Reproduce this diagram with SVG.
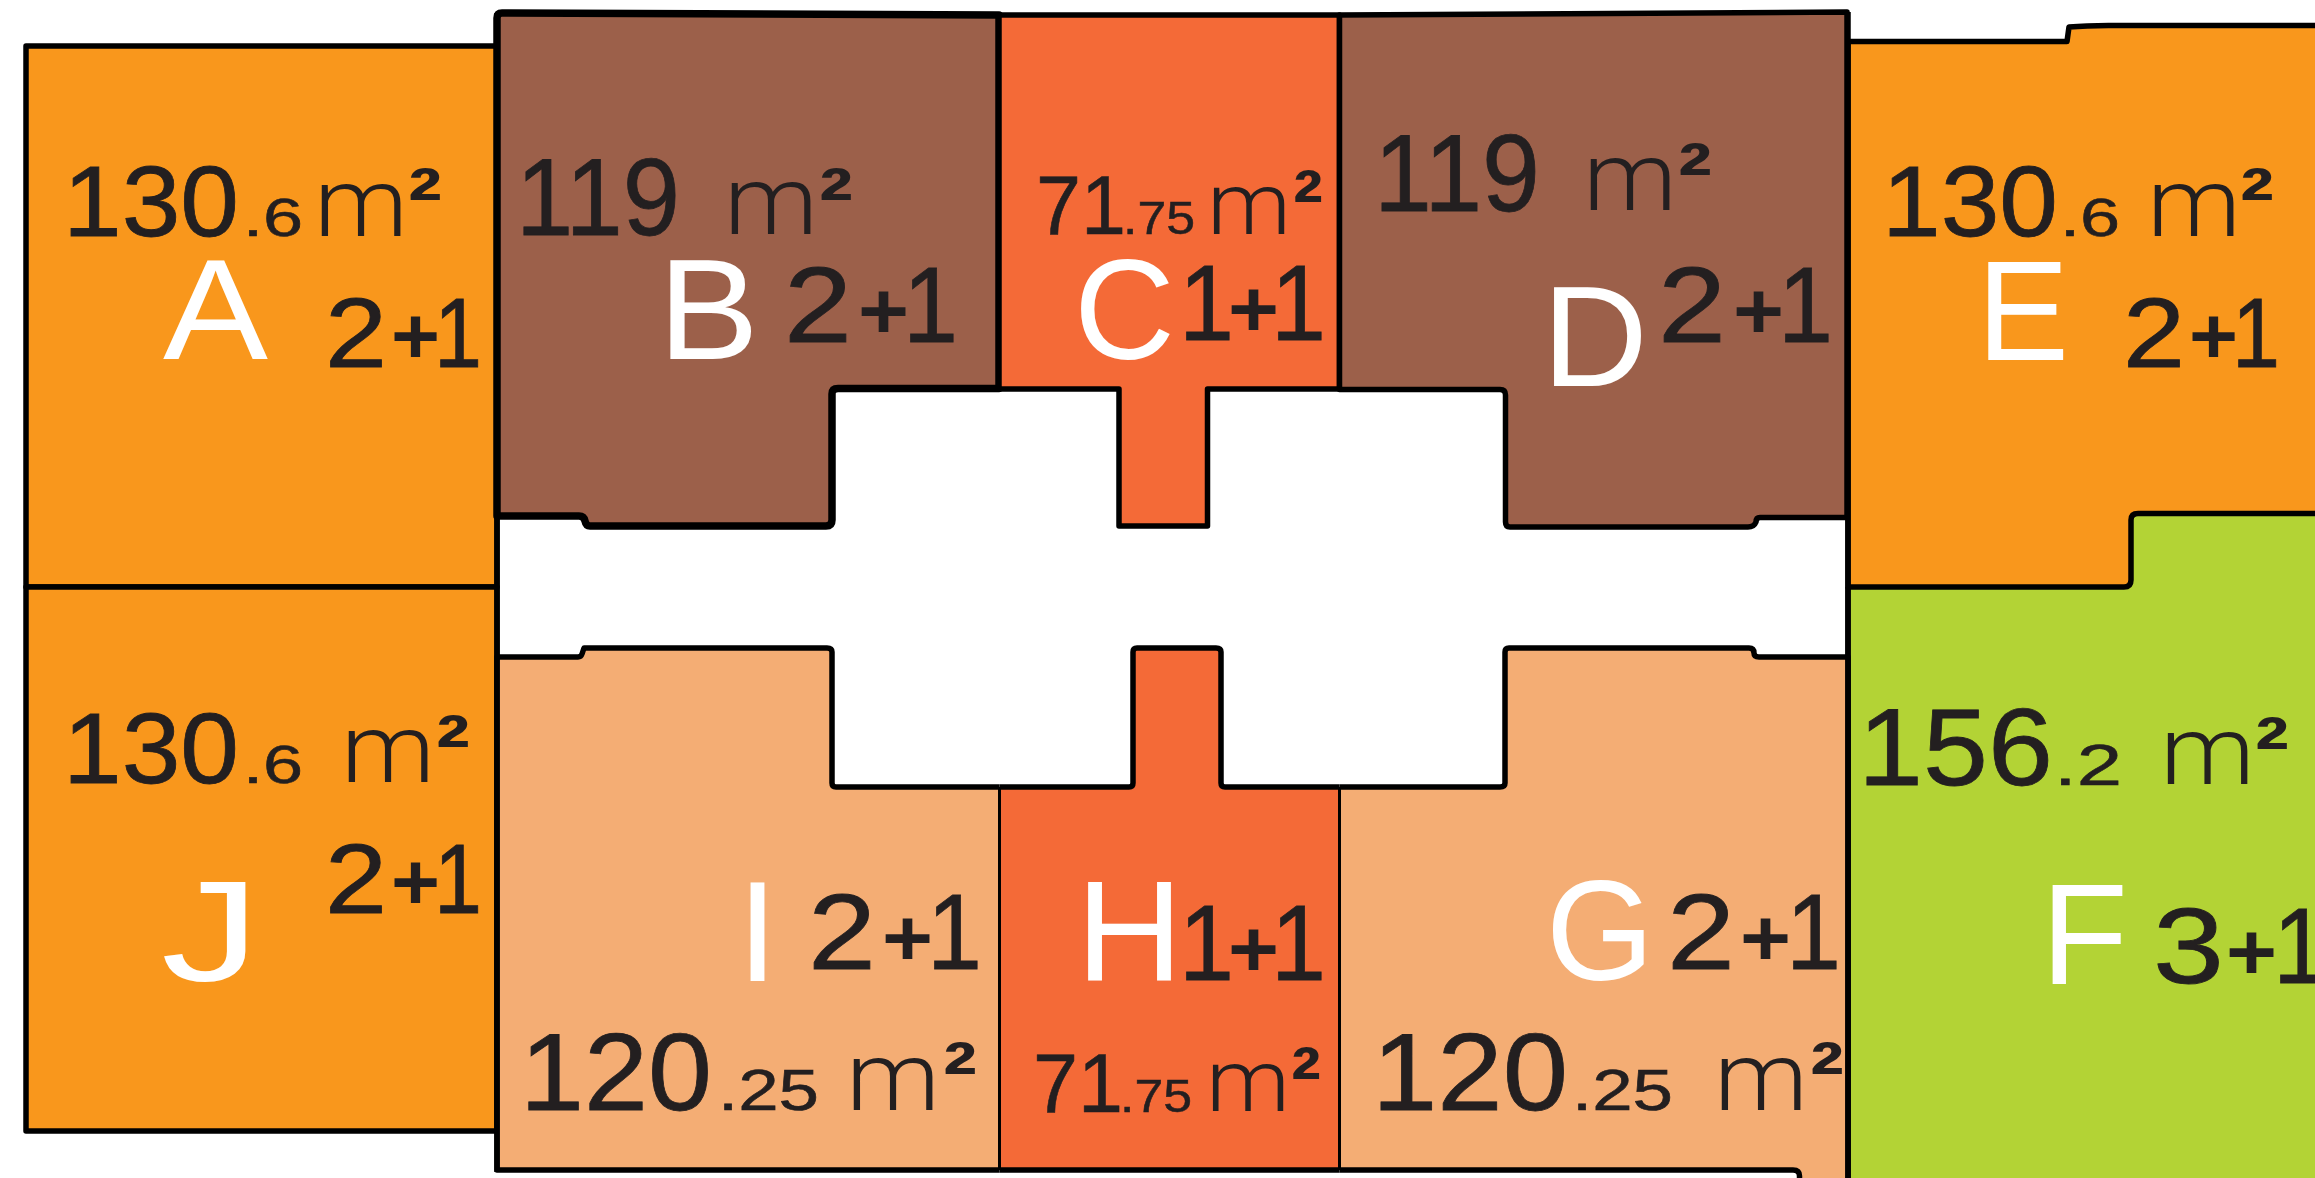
<svg xmlns="http://www.w3.org/2000/svg" width="2315" height="1178" viewBox="0 0 2315 1178">
<style>
text{font-family:"Liberation Sans",Arial,sans-serif;fill:#231f20}
.w{stroke:#000;stroke-width:5.5;stroke-linejoin:round;fill:none}
.o{fill:#f9971c}.br{fill:#9c604a}.r{fill:#f46a37}.p{fill:#f4ad74}.g{fill:#b3d335}
.L{fill:#fff;font-size:142px}
.b1{font-size:100px;stroke:#231f20;stroke-width:.8}.b2{font-size:110px;stroke:#231f20;stroke-width:.8}.b3{font-size:84px;stroke:#231f20;stroke-width:.6}
.s1{font-size:54px;stroke:#231f20;stroke-width:.6}.s2{font-size:58px;stroke:#231f20;stroke-width:.6}.s3{font-size:46px;stroke:#231f20;stroke-width:.5}
.m{font-family:Roboto,"Liberation Sans",sans-serif;font-weight:300;font-size:96px}
.m3{font-family:Roboto,"Liberation Sans",sans-serif;font-weight:300;font-size:87px}
.q{font-weight:700;font-size:88px}
.u1{font-size:98px;stroke:#231f20;stroke-width:.8}.u2{font-size:107px;stroke:#231f20;stroke-width:.8}
.pl{font-weight:700;font-size:80px}
</style>
<rect width="2315" height="1178" fill="#fff"/>
<g id="unit-F"><path class="g" d="M1848 587H2124Q2131 587 2131 580V520Q2131 514 2138 514H2320V1185H1848Z"/>
<path class="w" d="M1848 587V1185"/>
<text class="L" style="fill:#fff" x="2041" y="984" textLength="87" lengthAdjust="spacingAndGlyphs">F</text>
<text y="785"><tspan class="b2" x="1858" textLength="195" lengthAdjust="spacingAndGlyphs">156</tspan><tspan class="s2" x="2054" textLength="68" lengthAdjust="spacingAndGlyphs">.2</tspan><tspan class="m" x="2160" y="784" textLength="95" lengthAdjust="spacingAndGlyphs">m</tspan><tspan class="q" x="2255" y="779" textLength="34" lengthAdjust="spacingAndGlyphs">²</tspan></text>
<text y="983"><tspan class="u2" x="2153" textLength="71" lengthAdjust="spacingAndGlyphs">3</tspan><tspan class="pl" x="2226" y="979" textLength="51" lengthAdjust="spacingAndGlyphs">+</tspan><tspan class="u2" x="2273" y="983" textLength="55" lengthAdjust="spacingAndGlyphs">1</tspan></text></g>
<g id="unit-A"><path class="o" d="M26 46H497V587H26Z"/><path class="w" d="M26 46H497V587H26Z"/>
<text class="L" style="fill:#fff" x="163" y="359" textLength="105" lengthAdjust="spacingAndGlyphs">A</text>
<text y="236"><tspan class="b1" x="63" textLength="176" lengthAdjust="spacingAndGlyphs">130</tspan><tspan class="s1" x="243" textLength="60" lengthAdjust="spacingAndGlyphs">.6</tspan><tspan class="m" x="314" textLength="94" lengthAdjust="spacingAndGlyphs">m</tspan><tspan class="q" x="408" y="230" textLength="34" lengthAdjust="spacingAndGlyphs">²</tspan></text>
<text y="367"><tspan class="u1" x="325" textLength="62" lengthAdjust="spacingAndGlyphs">2</tspan><tspan class="pl" x="391" y="363" textLength="49" lengthAdjust="spacingAndGlyphs">+</tspan><tspan class="u1" x="434" y="367" textLength="48" lengthAdjust="spacingAndGlyphs">1</tspan></text></g>
<g id="unit-J"><path class="o" d="M26 587H497V1131H26Z"/><path class="w" d="M26 587H497V1131H26Z"/>
<text class="L" style="fill:#fff" x="161" y="981" textLength="99" lengthAdjust="spacingAndGlyphs">J</text>
<text y="783"><tspan class="b1" x="63" textLength="176" lengthAdjust="spacingAndGlyphs">130</tspan><tspan class="s1" x="243" textLength="60" lengthAdjust="spacingAndGlyphs">.6</tspan><tspan class="m" x="341" y="782" textLength="94" lengthAdjust="spacingAndGlyphs">m</tspan><tspan class="q" x="436" y="777" textLength="34" lengthAdjust="spacingAndGlyphs">²</tspan></text>
<text y="913"><tspan class="u1" x="325" textLength="62" lengthAdjust="spacingAndGlyphs">2</tspan><tspan class="pl" x="391" y="909" textLength="49" lengthAdjust="spacingAndGlyphs">+</tspan><tspan class="u1" x="434" y="913" textLength="48" lengthAdjust="spacingAndGlyphs">1</tspan></text></g>
<g id="unit-B"><path class="br" d="M497 18Q497 13 502 13L999 15V388.5H838Q832 388.5 832 394V520Q832 526 826 526H590Q586 526 585 521Q584 516 579 516H497Z" stroke="#000" stroke-width="7.5" stroke-linejoin="round"/>
<text class="L" style="fill:#fff" x="658" y="359" textLength="101" lengthAdjust="spacingAndGlyphs">B</text>
<text y="235"><tspan class="b2" x="516" textLength="164" lengthAdjust="spacingAndGlyphs">119</tspan><tspan class="m" x="724" y="234" textLength="94" lengthAdjust="spacingAndGlyphs">m</tspan><tspan class="q" x="819" y="230" textLength="34" lengthAdjust="spacingAndGlyphs">²</tspan></text>
<text y="342"><tspan class="u2" x="784" textLength="68" lengthAdjust="spacingAndGlyphs">2</tspan><tspan class="pl" x="858" y="338" textLength="51" lengthAdjust="spacingAndGlyphs">+</tspan><tspan class="u2" x="903" y="342" textLength="55" lengthAdjust="spacingAndGlyphs">1</tspan></text></g>
<g id="unit-C"><path class="r" d="M999 15H1339.5V389H1207.5V526H1119V389H999Z" stroke="#000" stroke-width="5.5" stroke-linejoin="round"/>
<text class="L" style="fill:#fff" x="1074" y="359" textLength="101" lengthAdjust="spacingAndGlyphs">C</text>
<text y="234"><tspan class="b3" x="1036" textLength="90" lengthAdjust="spacingAndGlyphs">71</tspan><tspan class="s3" x="1123" textLength="72" lengthAdjust="spacingAndGlyphs">.75</tspan><tspan class="m3" x="1207" textLength="84" lengthAdjust="spacingAndGlyphs">m</tspan><tspan class="q" x="1293" y="232" textLength="30" lengthAdjust="spacingAndGlyphs">²</tspan></text>
<text y="340"><tspan class="u2" x="1179" textLength="55" lengthAdjust="spacingAndGlyphs">1</tspan><tspan class="pl" x="1228" y="336" textLength="51" lengthAdjust="spacingAndGlyphs">+</tspan><tspan class="u2" x="1271" y="340" textLength="55" lengthAdjust="spacingAndGlyphs">1</tspan></text></g>
<g id="unit-D"><path class="br" d="M1339.5 15L1847 12V517.5H1760Q1756 517.5 1756 522Q1754 527 1748 527H1510Q1505.5 527 1505.5 522V395Q1505.5 389.5 1500 389.5H1339.5Z" stroke="#000" stroke-width="5.5" stroke-linejoin="round"/>
<text class="L" style="fill:#fff" x="1542" y="386" textLength="106" lengthAdjust="spacingAndGlyphs">D</text>
<text y="211"><tspan class="b2" x="1374" textLength="166" lengthAdjust="spacingAndGlyphs">119</tspan><tspan class="m" x="1583" y="210" textLength="94" lengthAdjust="spacingAndGlyphs">m</tspan><tspan class="q" x="1678" y="205" textLength="34" lengthAdjust="spacingAndGlyphs">²</tspan></text>
<text y="342"><tspan class="u2" x="1658" textLength="68" lengthAdjust="spacingAndGlyphs">2</tspan><tspan class="pl" x="1733" y="338" textLength="51" lengthAdjust="spacingAndGlyphs">+</tspan><tspan class="u2" x="1778" y="342" textLength="55" lengthAdjust="spacingAndGlyphs">1</tspan></text></g>
<g id="unit-E"><path class="o" d="M1848 41.5H2067L2069 27Q2090 25 2120 25.5H2320V513.5H2138Q2131 513.5 2131 520V580Q2131 587 2124 587H1848Z" stroke="#000" stroke-width="5.5" stroke-linejoin="round"/>
<text class="L" style="fill:#fff" x="1977" y="360" textLength="92" lengthAdjust="spacingAndGlyphs">E</text>
<text y="236"><tspan class="b1" x="1882" textLength="176" lengthAdjust="spacingAndGlyphs">130</tspan><tspan class="s1" x="2060" textLength="60" lengthAdjust="spacingAndGlyphs">.6</tspan><tspan class="m" x="2147" textLength="94" lengthAdjust="spacingAndGlyphs">m</tspan><tspan class="q" x="2240" y="230" textLength="34" lengthAdjust="spacingAndGlyphs">²</tspan></text>
<text y="367"><tspan class="u1" x="2123" textLength="62" lengthAdjust="spacingAndGlyphs">2</tspan><tspan class="pl" x="2189" y="363" textLength="49" lengthAdjust="spacingAndGlyphs">+</tspan><tspan class="u1" x="2232" y="367" textLength="48" lengthAdjust="spacingAndGlyphs">1</tspan></text></g>
<g id="unit-I"><path class="p" d="M999.5 787H836Q832 787 832 783V652Q832 648 827 648H584L582 654Q581 657 578 657H497V1170H999.5Z"/><path class="w" d="M999.5 787H836Q832 787 832 783V652Q832 648 827 648H584L582 654Q581 657 578 657H497V1170H999.5"/>
<text class="L" style="fill:#fff" x="737" y="981" textLength="41" lengthAdjust="spacingAndGlyphs">I</text>
<text y="1110"><tspan class="b2" x="520" textLength="192" lengthAdjust="spacingAndGlyphs">120</tspan><tspan class="s2" x="718" textLength="101" lengthAdjust="spacingAndGlyphs">.25</tspan><tspan class="m" x="846" textLength="94" lengthAdjust="spacingAndGlyphs">m</tspan><tspan class="q" x="943" y="1104" textLength="34" lengthAdjust="spacingAndGlyphs">²</tspan></text>
<text y="969"><tspan class="u2" x="808" textLength="68" lengthAdjust="spacingAndGlyphs">2</tspan><tspan class="pl" x="882" y="965" textLength="51" lengthAdjust="spacingAndGlyphs">+</tspan><tspan class="u2" x="927" y="969" textLength="55" lengthAdjust="spacingAndGlyphs">1</tspan></text></g>
<g id="unit-H"><path class="r" d="M999.5 787H1129Q1133 787 1133 783V652Q1133 648 1137 648H1216Q1221 648 1221 652V783Q1221 787 1225 787H1339.5V1170H999.5Z"/><path class="w" d="M999.5 787H1129Q1133 787 1133 783V652Q1133 648 1137 648H1216Q1221 648 1221 652V783Q1221 787 1225 787H1339.5M999.5 1170H1339.5"/>
<text class="L" style="fill:#fff" x="1076" y="981" textLength="107" lengthAdjust="spacingAndGlyphs">H</text>
<text y="1112"><tspan class="b3" x="1033" textLength="90" lengthAdjust="spacingAndGlyphs">71</tspan><tspan class="s3" x="1120" textLength="72" lengthAdjust="spacingAndGlyphs">.75</tspan><tspan class="m3" x="1206" y="1111" textLength="84" lengthAdjust="spacingAndGlyphs">m</tspan><tspan class="q" x="1291" y="1109" textLength="30" lengthAdjust="spacingAndGlyphs">²</tspan></text>
<text y="980"><tspan class="u2" x="1179" textLength="55" lengthAdjust="spacingAndGlyphs">1</tspan><tspan class="pl" x="1228" y="976" textLength="51" lengthAdjust="spacingAndGlyphs">+</tspan><tspan class="u2" x="1271" y="980" textLength="55" lengthAdjust="spacingAndGlyphs">1</tspan></text></g>
<g id="unit-G"><path class="p" d="M1339.5 787H1500Q1505 787 1505 783V652Q1505 648 1509 648H1749Q1754 648 1754 653Q1754 657 1759 657H1848V1185H1799.5V1176Q1799.5 1170 1793 1170H1339.5Z"/><path class="w" d="M1339.5 787H1500Q1505 787 1505 783V652Q1505 648 1509 648H1749Q1754 648 1754 653Q1754 657 1759 657H1848V1185M1339.5 1170H1793Q1799.5 1170 1799.5 1176V1185"/>
<text class="L" style="fill:#fff" x="1546" y="980" textLength="108" lengthAdjust="spacingAndGlyphs">G</text>
<text y="1110"><tspan class="b2" x="1372" textLength="196" lengthAdjust="spacingAndGlyphs">120</tspan><tspan class="s2" x="1572" textLength="101" lengthAdjust="spacingAndGlyphs">.25</tspan><tspan class="m" x="1714" textLength="94" lengthAdjust="spacingAndGlyphs">m</tspan><tspan class="q" x="1810" y="1104" textLength="34" lengthAdjust="spacingAndGlyphs">²</tspan></text>
<text y="969"><tspan class="u2" x="1667" textLength="68" lengthAdjust="spacingAndGlyphs">2</tspan><tspan class="pl" x="1740" y="965" textLength="51" lengthAdjust="spacingAndGlyphs">+</tspan><tspan class="u2" x="1786" y="969" textLength="55" lengthAdjust="spacingAndGlyphs">1</tspan></text></g>
<g id="connectors"><path stroke="#000" stroke-width="3" fill="none" d="M999.5 787V1170M1339.5 787V1170"/><path class="w" d="M497 13V1172M1848 12V1178"/></g>
</svg>
